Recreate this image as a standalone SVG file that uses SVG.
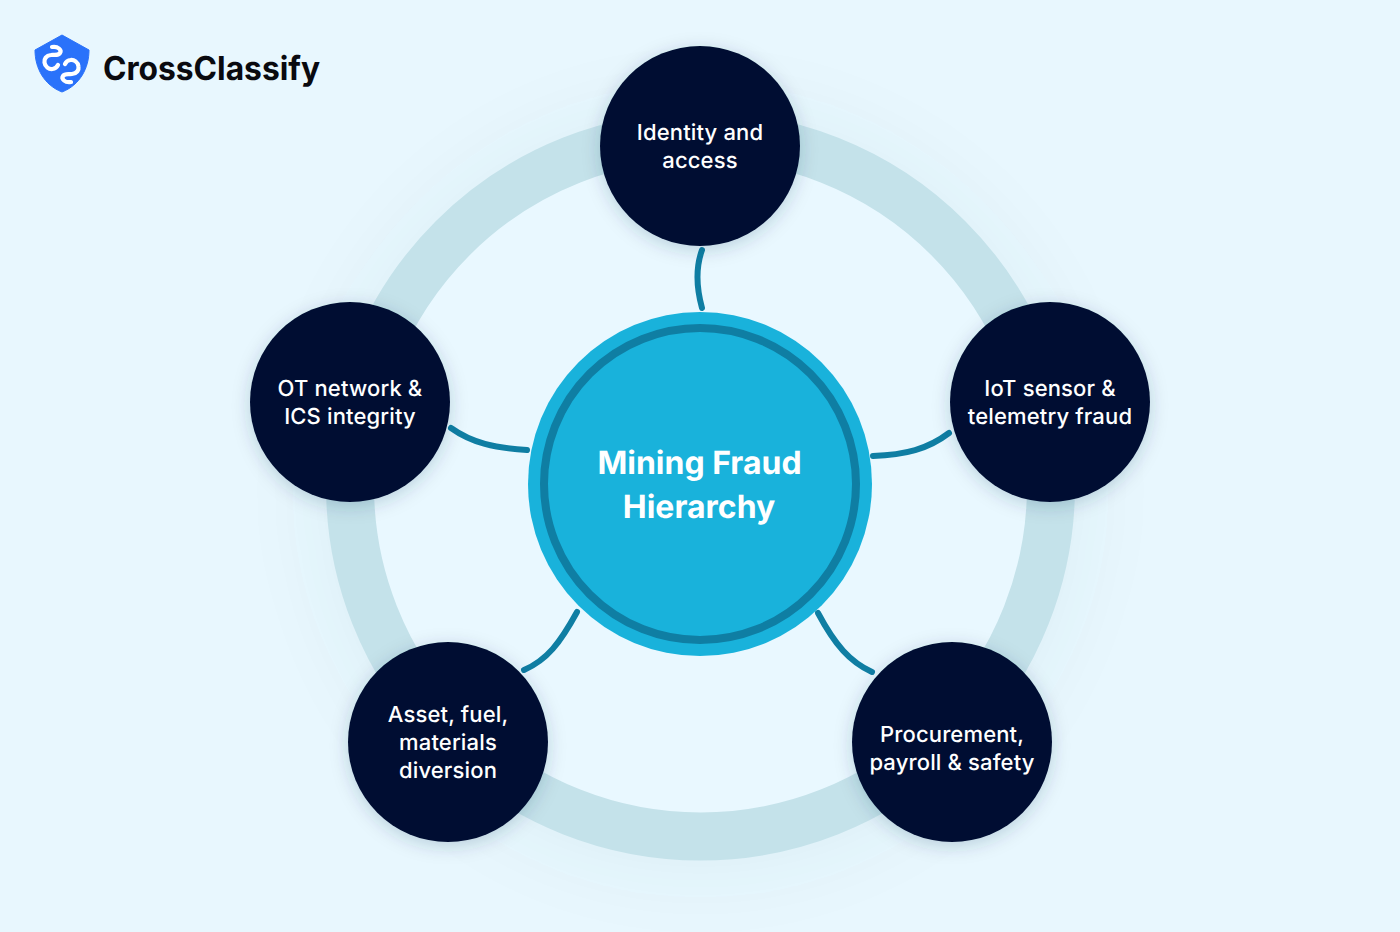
<svg xmlns="http://www.w3.org/2000/svg" width="1400" height="932" viewBox="0 0 1400 932">
<style>
text{text-rendering:geometricPrecision;font-family:Inter,"Liberation Sans",sans-serif}
.node{fill:#020e33;filter:url(#sh)}
.lbl{font-size:22px;font-weight:500;fill:#fff;text-anchor:middle;letter-spacing:.15px}
.ttl{font-size:32px;font-weight:650;fill:#fff;text-anchor:middle}
.con{fill:none;stroke:#0f7ea3;stroke-width:6;stroke-linecap:round}
.lg{fill:none;stroke:#fff;stroke-width:4.200;stroke-linecap:round}
</style>
<defs>
<filter id="sh" x="-30%" y="-30%" width="160%" height="160%"><feDropShadow dx="0" dy="4" stdDeviation="9" flood-color="#0b3a55" flood-opacity=".2"/></filter>
<filter id="glow" x="-30%" y="-30%" width="160%" height="160%"><feGaussianBlur stdDeviation="35"/></filter>
</defs>
<rect width="1400" height="932" fill="#e8f7fe"/>
<circle cx="700.5" cy="490" r="385" fill="#0b5a7a" fill-opacity=".05" filter="url(#glow)"/>
<circle cx="700.5" cy="486" r="330" fill="#e9f8ff"/>
<circle id="ring" cx="700.5" cy="486" r="350.5" fill="none" stroke="#c4e2ea" stroke-width="48"/>
<g id="logo">
<path d="M62 35 L89 50 C89 68 80 85 62 92 C44 85 35 68 35 50 Z" fill="#2a72fa" stroke="#2a72fa" stroke-width="1" stroke-linejoin="round"/>
<path class="lg" d="M52 47 C58 46 62 50 60 53 C58 56 54 54.500 51 55 C46 55.500 44 59 44.500 62.500 C45 67 49 69.500 52.500 69 C55 68.700 57 67 58 65"/>
<path class="lg" d="M71 82 C65 83 61 79 63 76 C65 73 69 74.500 72 74 C77 73.500 79 70 78.500 66.500 C78 62 74 59.500 70.500 60 C68 60.300 66 62 65 64"/>
<text x="103" y="80" font-size="33" font-weight="650" fill="#0a0a0f" textLength="217" lengthAdjust="spacingAndGlyphs">CrossClassify</text>
</g>
<g id="connectors">
<path class="con" d="M702 308 C696.500 288 695.500 268 702 250"/>
<path class="con" d="M527 450 C495 448 472 443 451 428"/>
<path class="con" d="M873 456 C905 455 928 449 949 433"/>
<path class="con" d="M577 612 C560 643 547 660 524 670"/>
<path class="con" d="M818 613 C835 645 850 662 872 672"/>
</g>
<g id="center">
<circle cx="700" cy="484" r="172" fill="#19b2db"/>
<circle cx="700" cy="484" r="156" fill="none" stroke="#0f7ea3" stroke-width="8"/>
<text class="ttl" x="699.500" y="474">Mining Fraud</text>
<text class="ttl" x="699" y="518">Hierarchy</text>
</g>
<g id="n1"><circle class="node" cx="700" cy="146" r="100"/><text class="lbl" x="700" y="140">Identity and</text><text class="lbl" x="700" y="168">access</text></g>
<g id="n2"><circle class="node" cx="1050" cy="402" r="100"/><text class="lbl" x="1050" y="396">IoT sensor &amp;</text><text class="lbl" x="1050" y="424">telemetry fraud</text></g>
<g id="n3"><circle class="node" cx="952" cy="742" r="100"/><text class="lbl" x="952" y="742">Procurement,</text><text class="lbl" x="952" y="770">payroll &amp; safety</text></g>
<g id="n4"><circle class="node" cx="448" cy="742" r="100"/><text class="lbl" x="448" y="722">Asset, fuel,</text><text class="lbl" x="448" y="750">materials</text><text class="lbl" x="448" y="778">diversion</text></g>
<g id="n5"><circle class="node" cx="350" cy="402" r="100"/><text class="lbl" x="350" y="396">OT network &amp;</text><text class="lbl" x="350" y="424">ICS integrity</text></g>
</svg>
